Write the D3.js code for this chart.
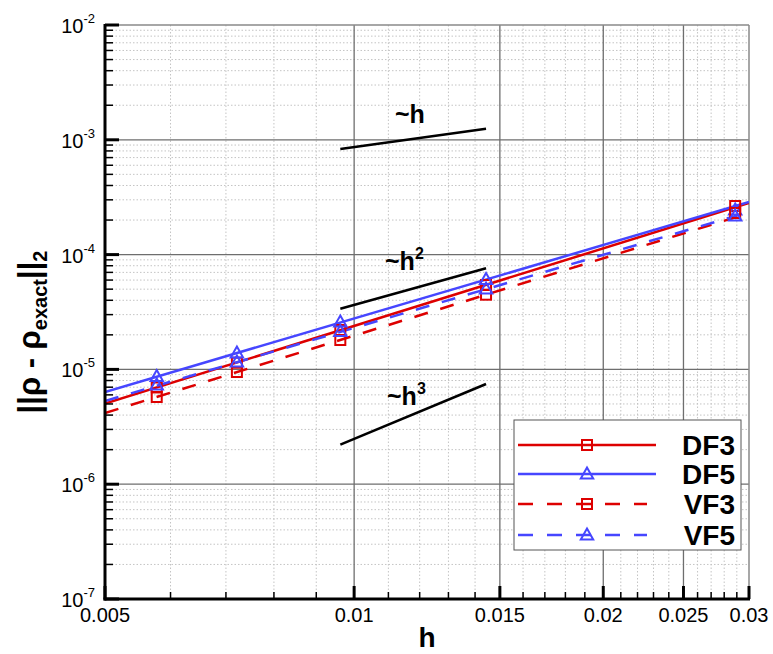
<!DOCTYPE html>
<html><head><meta charset="utf-8">
<script src="https://cdn.jsdelivr.net/npm/d3@7"></script>
<style>
html,body{margin:0;padding:0;background:#fff;}
svg{display:block;font-family:"Liberation Sans",Arial,Helvetica,sans-serif;}
</style></head>
<body>
<svg id="chart" width="773" height="654"></svg>
<script>
// ---- data ----
const hValues = [0.005774, 0.007217, 0.009623, 0.014434, 0.028868];
const df3 = [6.96e-6, 1.144e-5, 2.204e-5, 5.435e-5, 2.65e-4];
const df5 = [8.67e-6, 1.390e-5, 2.588e-5, 6.07e-5, 2.446e-4];
const vf3 = [5.75e-6, 9.49e-6, 1.803e-5, 4.474e-5, 2.303e-4];
const vf5 = [7.31e-6, 1.160e-5, 2.138e-5, 5.015e-5, 2.169e-4];
// fitted trend lines (values at the two ends of the h range)
const fitH = [0.005, 0.03];
const df3Fit = [5.05e-6, 2.815e-4];
const df5Fit = [6.36e-6, 2.872e-4];
const vf3Fit = [4.17e-6, 2.30e-4];
const vf5Fit = [5.31e-6, 2.35e-4];
// reference slopes
const refH = [0.009623, 0.014434];
const refOrder1 = [8.32e-4, 1.248e-3];
const refOrder2 = [3.378e-5, 7.6e-5];
const refOrder3 = [2.21e-6, 7.46e-6];
const refPowers = ["", "2", "3"];
const seriesNames = ["DF3", "DF5", "VF3", "VF5"];
const xTickValues = [0.005, 0.01, 0.015, 0.02, 0.025, 0.03];
const xTickLabels = ["0.005", "0.01", "0.015", "0.02", "0.025", "0.03"];
const yTickExponents = [-7, -6, -5, -4, -3, -2];

// ---- layout ----
const svg = d3.select("#chart");
const L = 105, R = 749, T = 25, B = 599;
const x = d3.scaleLog().domain([0.005, 0.03]).range([L, R]);
const y = d3.scaleLog().domain([1e-7, 1e-2]).range([B, T]);
const RED = "#dd0000", BLUE = "#4646ff";

const series = [
  {name: seriesNames[0], vals: df3, fit: df3Fit, color: RED, marker: "square", dash: null},
  {name: seriesNames[1], vals: df5, fit: df5Fit, color: BLUE, marker: "triangle", dash: null},
  {name: seriesNames[2], vals: vf3, fit: vf3Fit, color: RED, marker: "square", dash: "14,13"},
  {name: seriesNames[3], vals: vf5, fit: vf5Fit, color: BLUE, marker: "triangle", dash: "14,13"}
];

svg.append("defs").append("clipPath").attr("id", "clip")
  .append("rect").attr("x", L).attr("y", T).attr("width", R - L).attr("height", B - T);

// minor grid
const xMinor = [];
for (let v = 6; v <= 29; v++) { const h = v / 1000; if (!xTickValues.some(t => Math.abs(t - h) < 1e-9)) xMinor.push(h); }
const yMinor = [];
for (let e = -7; e < -2; e++) for (let m = 2; m <= 9; m++) yMinor.push(m * Math.pow(10, e));
const grid = svg.append("g");
grid.selectAll(".gxm").data(xMinor).join("line")
  .attr("x1", d => x(d)).attr("x2", d => x(d)).attr("y1", T).attr("y2", B)
  .attr("stroke", "#c4c4c4").attr("stroke-width", 1).attr("stroke-dasharray", "1.5,2");
grid.selectAll(".gym").data(yMinor).join("line")
  .attr("x1", L).attr("x2", R).attr("y1", d => y(d)).attr("y2", d => y(d))
  .attr("stroke", "#c4c4c4").attr("stroke-width", 1).attr("stroke-dasharray", "1.5,2");
// major grid
grid.selectAll(".gxM").data(xTickValues.slice(1, -1)).join("line")
  .attr("x1", d => x(d)).attr("x2", d => x(d)).attr("y1", T).attr("y2", B)
  .attr("stroke", "#6e6e6e").attr("stroke-width", 1.3);
grid.selectAll(".gyM").data(yTickExponents.slice(1, -1)).join("line")
  .attr("x1", L).attr("x2", R).attr("y1", d => y(Math.pow(10, d))).attr("y2", d => y(Math.pow(10, d)))
  .attr("stroke", "#6e6e6e").attr("stroke-width", 1.3);
// top/right frame
svg.append("line").attr("x1", L).attr("x2", R).attr("y1", T).attr("y2", T).attr("stroke", "#8a8a8a").attr("stroke-width", 1.5);
svg.append("line").attr("x1", R).attr("x2", R).attr("y1", T).attr("y2", B).attr("stroke", "#8a8a8a").attr("stroke-width", 1.5);

// data
const plot = svg.append("g").attr("clip-path", "url(#clip)");
const line = d3.line().x(d => x(d[0])).y(d => y(d[1]));
series.forEach(s => {
  plot.append("path").datum(fitH.map((h, i) => [h, s.fit[i]]))
    .attr("d", line).attr("fill", "none").attr("stroke", s.color).attr("stroke-width", 2.5)
    .attr("stroke-dasharray", s.dash);
});
const triPath = "M0,-6.5L6.2,4.5L-6.2,4.5Z";
function drawMarker(g, s, cx, cy) {
  if (s.marker === "square") {
    g.append("rect").attr("x", cx - 5).attr("y", cy - 5).attr("width", 10).attr("height", 10)
      .attr("fill", "none").attr("stroke", s.color).attr("stroke-width", 2);
  } else {
    g.append("path").attr("d", triPath).attr("transform", `translate(${cx},${cy})`)
      .attr("fill", "none").attr("stroke", s.color).attr("stroke-width", 2);
  }
}
const mk = svg.append("g");
series.forEach(s => {
  hValues.forEach((h, i) => drawMarker(mk, s, x(h), y(s.vals[i])));
});

// reference slope lines
const refs = [refOrder1, refOrder2, refOrder3];
const refLabelPos = [[395, 123], [385, 270], [387, 405]];
refs.forEach((r, k) => {
  svg.append("path").datum(refH.map((h, i) => [h, r[i]])).attr("d", line)
    .attr("fill", "none").attr("stroke", "#000").attr("stroke-width", 2.5);
  const t = svg.append("text").attr("x", refLabelPos[k][0]).attr("y", refLabelPos[k][1])
    .attr("font-size", 25).attr("font-weight", "bold").attr("fill", "#000");
  t.append("tspan").text("~h");
  if (refPowers[k]) t.append("tspan").attr("dy", -11).attr("font-size", 16).text(refPowers[k]);
});

// axes
svg.append("line").attr("x1", L).attr("x2", L).attr("y1", T - 1).attr("y2", B + 1.5).attr("stroke", "#000").attr("stroke-width", 3);
svg.append("line").attr("x1", L - 1.5).attr("x2", R + 1).attr("y1", B).attr("y2", B).attr("stroke", "#000").attr("stroke-width", 3);
// y ticks
svg.selectAll(".ytM").data(yTickExponents).join("line")
  .attr("x1", L).attr("x2", L + 14).attr("y1", d => y(Math.pow(10, d))).attr("y2", d => y(Math.pow(10, d)))
  .attr("stroke", "#000").attr("stroke-width", 3);
svg.selectAll(".ytm").data(yMinor).join("line")
  .attr("x1", L).attr("x2", L + 8).attr("y1", d => y(d)).attr("y2", d => y(d))
  .attr("stroke", "#000").attr("stroke-width", 1.5);
// x ticks
svg.selectAll(".xtM").data(xTickValues).join("line")
  .attr("x1", d => x(d)).attr("x2", d => x(d)).attr("y1", B).attr("y2", B - 13)
  .attr("stroke", "#000").attr("stroke-width", 3);
svg.selectAll(".xtm").data(xMinor).join("line")
  .attr("x1", d => x(d)).attr("x2", d => x(d)).attr("y1", B).attr("y2", B - 7)
  .attr("stroke", "#000").attr("stroke-width", 1.5);
// tick labels
svg.selectAll(".xl").data(xTickValues).join("text")
  .attr("x", d => x(d)).attr("y", B + 23).attr("text-anchor", "middle")
  .attr("font-size", 20).attr("fill", "#000").text((d, i) => xTickLabels[i]);
yTickExponents.forEach(e => {
  const yy = y(Math.pow(10, e));
  const t = svg.append("text").attr("x", 95).attr("y", yy + 8).attr("text-anchor", "end")
    .attr("font-size", 20).attr("fill", "#000");
  t.append("tspan").text("10");
  t.append("tspan").attr("dy", -10).attr("font-size", 13).text(String(e));
});
// axis titles
svg.append("text").attr("x", (L + R) / 2).attr("y", 647).attr("text-anchor", "middle")
  .attr("font-size", 28).attr("font-weight", "bold").text("h");
const yt = svg.append("text").attr("transform", `translate(40,${(T + B) / 2 + 20}) rotate(-90)`)
  .attr("text-anchor", "middle").attr("font-size", 31).attr("font-weight", "bold").attr("fill", "#000");
yt.append("tspan").text("||ρ - ρ");
yt.append("tspan").attr("font-size", 20).attr("dy", 7).text("exact");
yt.append("tspan").attr("dy", -7).text("||");
yt.append("tspan").attr("font-size", 20).attr("dy", 7).text("2");

// legend
const lg = svg.append("g");
lg.append("rect").attr("x", 514).attr("y", 420).attr("width", 227).attr("height", 130)
  .attr("fill", "#fff").attr("stroke", "#555").attr("stroke-width", 1);
const rowY = [445, 474, 504, 535];
series.forEach((s, i) => {
  lg.append("line").attr("x1", 518).attr("x2", s.dash ? 647 : 656).attr("y1", rowY[i]).attr("y2", rowY[i])
    .attr("stroke", s.color).attr("stroke-width", 2.5).attr("stroke-dasharray", s.dash ? "15,14" : null);
  drawMarker(lg, s, 587, rowY[i]);
  lg.append("text").attr("x", 735).attr("y", rowY[i] + 10).attr("text-anchor", "end")
    .attr("font-size", 28).attr("font-weight", "bold").attr("fill", "#000").text(s.name);
});
</script>
</body></html>
